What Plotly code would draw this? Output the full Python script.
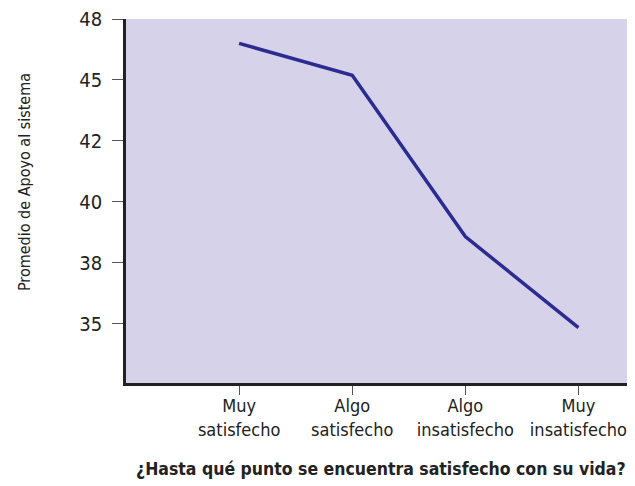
import plotly.graph_objects as go

# datos
categorias = ["Muy<br>satisfecho", "Algo<br>satisfecho", "Algo<br>insatisfecho", "Muy<br>insatisfecho"]
apoyo = [46.50, 45.19, 38.58, 34.85]
ticks_y = [35, 37.5, 40, 42.5, 45, 47.5]
etiquetas_y = ["35", "38", "40", "42", "45", "48"]

fuente = "DejaVu Sans Condensed, Liberation Sans Narrow, Roboto Condensed, Arial Narrow, serif"

fig = go.Figure()
fig.add_trace(go.Scatter(
    x=list(range(len(categorias))),
    y=apoyo,
    mode="lines",
    line=dict(color="#2B2B91", width=3.5),
    showlegend=False,
))

# la página tiene 8px de margen en el body
fig.update_layout(
    width=627, height=478,
    margin=dict(l=118, r=0, t=11, b=103),
    plot_bgcolor="#D5D2EA",
    paper_bgcolor="white",
    font=dict(family=fuente, size=18, color="#222"),
    annotations=[
        dict(text="Promedio de Apoyo al sistema", textangle=-90,
             xref="paper", yref="paper", x=0, y=0.552, xshift=-102,
             xanchor="center", yanchor="middle", showarrow=False,
             font=dict(size=16, color="#222")),
        dict(text="<b>¿Hasta qué punto se encuentra satisfecho con su vida?</b>",
             xref="paper", yref="paper", x=0.5, y=0, yshift=-86,
             xanchor="center", yanchor="middle", showarrow=False,
             font=dict(size=17.5, color="#222")),
    ],
)

fig.update_xaxes(
    range=[-1, 3.5],
    tickvals=list(range(len(categorias))),
    ticktext=categorias,
    showgrid=False, zeroline=False,
    showline=True, linecolor="#222", linewidth=2.5,
    ticks="outside", ticklen=9, tickcolor="#555", tickwidth=1,
    ticklabelstandoff=-4,
)
fig.update_yaxes(
    range=[32.58, 47.5],
    tickvals=ticks_y,
    ticktext=etiquetas_y,
    showgrid=False, zeroline=False,
    showline=True, linecolor="#222", linewidth=2.5,
    ticks="outside", ticklen=11, tickcolor="#555", tickwidth=1,
    ticklabelstandoff=6,
    ticklabeloverflow="allow",
    tickfont=dict(size=20),
)

fig.write_html("out.html")
